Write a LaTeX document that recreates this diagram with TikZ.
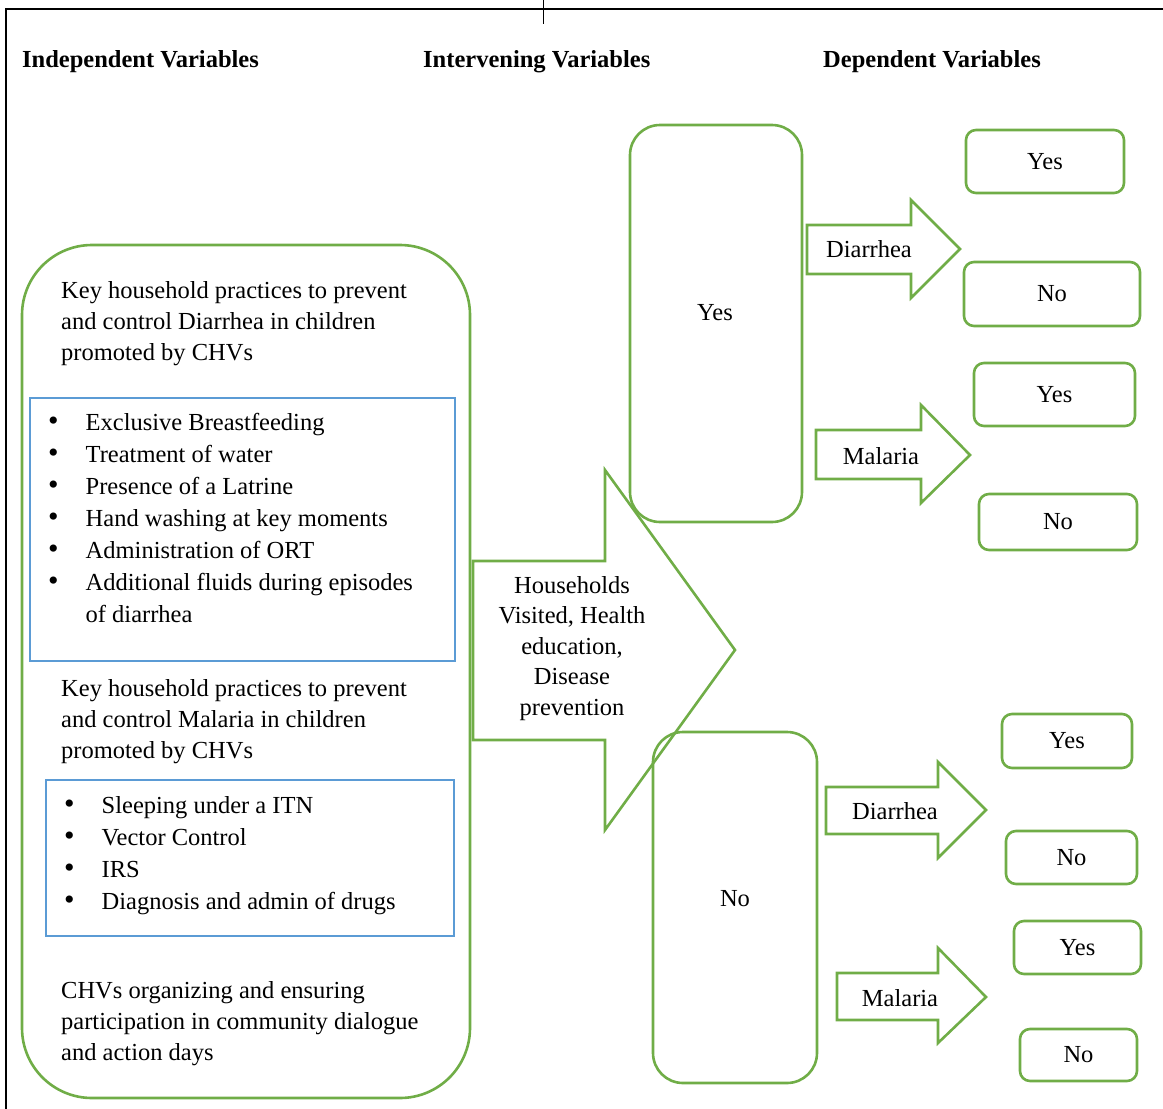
\documentclass[tikz,border=0pt]{standalone}
\usepackage{fontspec}
\setmainfont{Liberation Serif}
\usepackage{xcolor}
\usepackage{tikz}
\usetikzlibrary{arrows,shapes}

\definecolor{grn}{HTML}{70AD47}
\definecolor{blu}{HTML}{5B9BD5}

\tikzset{
	grnline/.style={draw=grn,line width=2.6pt,line join=miter},
	grnbox/.style={draw=grn,line width=2.6pt,rounded corners=10pt,inner sep=0pt},
	tallbox/.style={grnbox,rounded corners=30pt},
	blubox/.style={draw=blu,line width=2pt,inner sep=0pt},
	txt/.style={inner sep=0pt,font=\fontsize{24.5}{31}\selectfont,align=left},
	head/.style={inner sep=0pt,anchor=west,font=\fontsize{24.5}{31}\selectfont\bfseries}
}

\newcommand{\bul}{{\fontsize{30}{32}\selectfont\textbullet}}

\begin{document}
\begin{tikzpicture}[x=1pt,y=-1pt]
		\useasboundingbox (0,0) rectangle (1163,1109);
		% frame
		\draw[line width=2pt] (6,1109) -- (6,9) -- (1163,9);
		\draw[line width=0.8pt] (543,0) -- (543,24);
		%
		\node[head] (indep) at (22,62) {Independent Variables};
		\node[head] (interv) at (423,62) {Intervening Variables};
		\node[head] (dep) at (823,62) {Dependent Variables};
		%
		\node[tallbox,rounded corners=70pt,minimum width=448pt,minimum height=853pt] (key) at (246,671.5) {};
		\node[txt,anchor=west] (diarTxt) at (61,323.5) {Key household practices to prevent\\and control Diarrhea in children\\promoted by CHVs};
		\node[blubox,minimum width=425pt,minimum height=263pt] (diarList) at (242.5,529.5) {};
		\node[txt,anchor=west] (diarItems) at (48,520) {\fontsize{24.5}{32}\selectfont
			\begin{tabular}{@{}l@{\hspace{27pt}}l@{}}
			\bul & Exclusive Breastfeeding\\
			\bul & Treatment of water\\
			\bul & Presence of a Latrine\\
			\bul & Hand washing at key moments\\
			\bul & Administration of ORT\\
			\bul & Additional fluids during episodes\\
			 & of diarrhea
			\end{tabular}};
		\node[txt,anchor=west] (malTxt) at (61,721.5) {Key household practices to prevent\\and control Malaria in children\\promoted by CHVs};
		\node[blubox,minimum width=408pt,minimum height=156pt] (malList) at (250,858) {};
		\node[txt,anchor=west] (malItems) at (64,855) {\fontsize{24.5}{32}\selectfont
			\begin{tabular}{@{}l@{\hspace{27pt}}l@{}}
			\bul & Sleeping under a ITN\\
			\bul & Vector Control\\
			\bul & IRS\\
			\bul & Diagnosis and admin of drugs
			\end{tabular}};
		\node[txt,anchor=west] (chvTxt) at (61,1023.5) {CHVs organizing and ensuring\\participation in community dialogue\\and action days};
		%
		% big arrow
		\draw[grnline] (473,561) -- (605,561) -- (605,470) -- (735,650) -- (605,830) -- (605,740) -- (473,740) -- cycle;
		\node[txt,align=center,font=\fontsize{24.5}{30.5}\selectfont] (visit) at (572,648.5) {Households\\Visited, Health\\education,\\Disease\\prevention};
		%
		\node[tallbox,minimum width=172pt,minimum height=397pt] (yesBox) at (716,323.5) {};
		\node[txt] (yesTxt) at (715,313) {Yes};
		\node[tallbox,minimum width=164pt,minimum height=351pt] (noBox) at (735,907.5) {};
		\node[txt] (noTxt) at (735,899) {No};
		%
		% small arrows
		\draw[grnline] (807,225) -- (911,225) -- (911,200) -- (960,249) -- (911,298) -- (911,274) -- (807,274) -- cycle;
		\node[txt] (diarA) at (869,249) {Diarrhea};
		\draw[grnline] (816,430) -- (921,430) -- (921,405) -- (970,455) -- (921,503) -- (921,479) -- (816,479) -- cycle;
		\node[txt] (malA) at (881,456) {Malaria};
		\draw[grnline] (826,787) -- (938,787) -- (938,762) -- (986,810) -- (938,858) -- (938,834) -- (826,834) -- cycle;
		\node[txt] (diarB) at (895,811) {Diarrhea};
		\draw[grnline] (837,973) -- (938,973) -- (938,948) -- (986,997) -- (938,1043) -- (938,1020) -- (837,1020) -- cycle;
		\node[txt] (malB) at (900,998) {Malaria};
		%
		\node[grnbox,txt,minimum width=158pt,minimum height=63pt] (yes1) at (1045,161.5) {Yes};
		\node[grnbox,txt,minimum width=176pt,minimum height=64pt] (no1) at (1052,294) {No};
		\node[grnbox,txt,minimum width=161pt,minimum height=63pt] (yes2) at (1054.5,394.5) {Yes};
		\node[grnbox,txt,minimum width=158pt,minimum height=56pt] (no2) at (1058,522) {No};
		\node[grnbox,txt,minimum width=130pt,minimum height=54pt] (yes3) at (1067,741) {Yes};
		\node[grnbox,txt,minimum width=131pt,minimum height=53pt] (no3) at (1071.5,857.5) {No};
		\node[grnbox,txt,minimum width=127pt,minimum height=53pt] (yes4) at (1077.5,947.5) {Yes};
		\node[grnbox,txt,minimum width=117pt,minimum height=52pt] (no4) at (1078.5,1055) {No};
\end{tikzpicture}
\end{document}
